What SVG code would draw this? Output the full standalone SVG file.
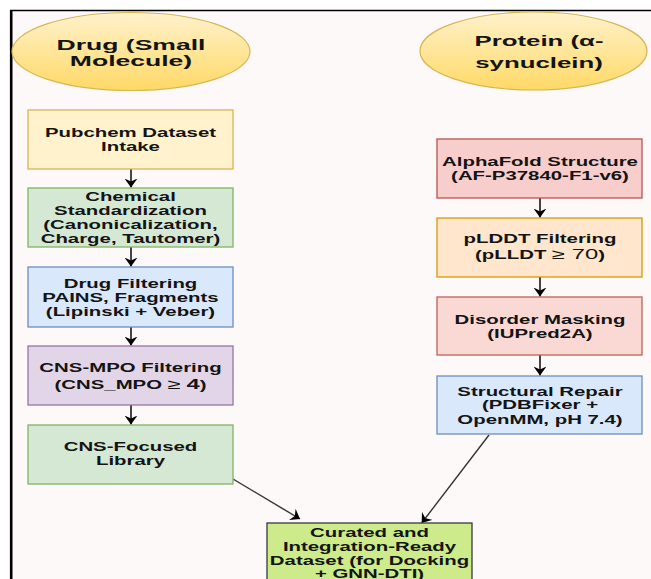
<svg xmlns="http://www.w3.org/2000/svg" width="651" height="579" viewBox="0 0 651 579">
<style>
text{font-family:"Liberation Sans",Arial,sans-serif;font-weight:bold;fill:#141414;text-anchor:middle}
.t{font-size:12px}
.e{font-size:15px}
.box{stroke-width:1.3}
.edge{fill:none;stroke:#333;stroke-width:1.4}
.v{stroke:#444;stroke-width:2}
</style>
<defs>
<linearGradient id="yg" x1="0" y1="0" x2="0" y2="1">
<stop offset="0" stop-color="#fff2cc"/>
<stop offset="1" stop-color="#ffd966"/>
</linearGradient>
<marker id="ah" markerUnits="userSpaceOnUse" viewBox="0 0 9 13" markerWidth="9" markerHeight="13" refX="9" refY="6.5" orient="auto">
<path d="M0,0 L9,6.5 L0,13 L3,6.5 Z" fill="#000"/>
</marker>
</defs>
<rect x="0" y="0" width="651" height="579" fill="#fff"/>
<rect x="11" y="10" width="640" height="569" fill="#fdf9f8"/>
<line x1="10" y1="10.5" x2="651" y2="10.5" stroke="#000" stroke-width="1.3"/>
<line x1="11.2" y1="10" x2="11.2" y2="579" stroke="#000" stroke-width="2.6"/>

<g id="connectors">
<line class="edge v" x1="131" y1="169" x2="131" y2="187.5" marker-end="url(#ah)"/>
<line class="edge v" x1="131" y1="247" x2="131" y2="266.5" marker-end="url(#ah)"/>
<line class="edge v" x1="131" y1="327" x2="131" y2="345.5" marker-end="url(#ah)"/>
<line class="edge v" x1="131" y1="405" x2="131" y2="424.5" marker-end="url(#ah)"/>
<line class="edge v" x1="540" y1="198" x2="540" y2="217.5" marker-end="url(#ah)"/>
<line class="edge v" x1="540" y1="277" x2="540" y2="296.5" marker-end="url(#ah)"/>
<line class="edge v" x1="540" y1="355" x2="540" y2="375.5" marker-end="url(#ah)"/>
<line class="edge" x1="233" y1="479" x2="300" y2="519" marker-end="url(#ah)"/>
<line class="edge" x1="489" y1="435" x2="421.7" y2="523" marker-end="url(#ah)"/>
</g>

<g id="drug">
<ellipse cx="131" cy="51.5" rx="119" ry="39" fill="url(#yg)" stroke="#d6b656" stroke-width="1.2"/>
<text class="e" transform="translate(131 0) scale(1.77 1)"><tspan x="0" y="50">Drug (Small</tspan><tspan x="0" y="66">Molecule)</tspan></text>
</g>

<g id="protein">
<ellipse cx="533.5" cy="51" rx="113.5" ry="39" fill="url(#yg)" stroke="#d6b656" stroke-width="1.2"/>
<text class="e" transform="translate(539 0) scale(1.72 1)"><tspan x="0" y="46">Protein (α-</tspan><tspan x="0" y="68">synuclein)</tspan></text>
</g>

<g id="pubchem">
<rect class="box" x="28" y="110" width="205" height="59" fill="#fff2cc" stroke="#d6b656"/>
<text class="t" transform="translate(130.5 0) scale(1.7 1)"><tspan x="0" y="137">Pubchem Dataset</tspan><tspan x="0" y="151.5">Intake</tspan></text>
</g>

<g id="standardization">
<rect class="box" x="28" y="188" width="205" height="59" fill="#d5e8d4" stroke="#82b366"/>
<text class="t" transform="translate(130.5 0) scale(1.7 1)"><tspan x="0" y="201.5">Chemical</tspan><tspan x="0" y="215.3">Standardization</tspan><tspan x="0" y="229.3">(Canonicalization,</tspan><tspan x="0" y="243.3">Charge, Tautomer)</tspan></text>
</g>

<g id="drugfilter">
<rect class="box" x="28" y="267" width="205" height="60" fill="#dae8fc" stroke="#6c8ebf"/>
<text class="t" transform="translate(130.5 0) scale(1.7 1)"><tspan x="0" y="288">Drug Filtering</tspan><tspan x="0" y="301.8">PAINS, Fragments</tspan><tspan x="0" y="316">(Lipinski + Veber)</tspan></text>
</g>

<g id="cnsmpo">
<rect class="box" x="28" y="346" width="205" height="59" fill="#e1d5e7" stroke="#9673a6"/>
<text class="t" transform="translate(130.5 0) scale(1.7 1)"><tspan x="0" y="371.7">CNS-MPO Filtering</tspan><tspan x="0" y="389.3">(CNS_MPO <tspan font-weight="normal" font-size="14">≥</tspan> <tspan font-size="14">4</tspan>)</tspan></text>
</g>

<g id="library">
<rect class="box" x="28" y="425" width="205" height="59" fill="#d5e8d4" stroke="#82b366"/>
<text class="t" transform="translate(130.5 0) scale(1.7 1)"><tspan x="0" y="451.3">CNS-Focused</tspan><tspan x="0" y="465.3">Library</tspan></text>
</g>

<g id="alphafold">
<rect class="box" x="437" y="139" width="205" height="59" fill="#f8cecc" stroke="#b85450"/>
<text class="t" transform="translate(540 0) scale(1.7 1)"><tspan x="0" y="166">AlphaFold Structure</tspan><tspan x="0" y="180.5">(AF-P37840-F1-v6)</tspan></text>
</g>

<g id="plddt">
<rect class="box" x="437" y="218" width="205" height="59" fill="#ffe6cc" stroke="#d79b00"/>
<text class="t" transform="translate(540 0) scale(1.7 1)"><tspan x="0" y="243.3">pLDDT Filtering</tspan><tspan x="0" y="259.3">(pLLDT <tspan font-weight="normal" font-size="14">≥ 70</tspan>)</tspan></text>
</g>

<g id="disorder">
<rect class="box" x="437" y="297" width="205" height="58" fill="#fad9d5" stroke="#c0615a"/>
<text class="t" transform="translate(540 0) scale(1.7 1)"><tspan x="0" y="324">Disorder Masking</tspan><tspan x="0" y="338.3">(IUPred2A)</tspan></text>
</g>

<g id="repair">
<rect class="box" x="437" y="376" width="205" height="58" fill="#dae8fc" stroke="#6c8ebf"/>
<text class="t" transform="translate(540 0) scale(1.7 1)"><tspan x="0" y="396">Structural Repair</tspan><tspan x="0" y="409.5">(PDBFixer +</tspan><tspan x="0" y="424">OpenMM, pH 7.4)</tspan></text>
</g>

<g id="curated">
<rect class="box" x="267" y="523" width="205" height="62" fill="#cdeb8b" stroke="#36393d"/>
<text class="t" transform="translate(369.5 0) scale(1.7 1)"><tspan x="0" y="537">Curated and</tspan><tspan x="0" y="551">Integration-Ready</tspan><tspan x="0" y="565">Dataset (for Docking</tspan><tspan x="0" y="578.5">+ GNN-DTI)</tspan></text>
</g>
</svg>
